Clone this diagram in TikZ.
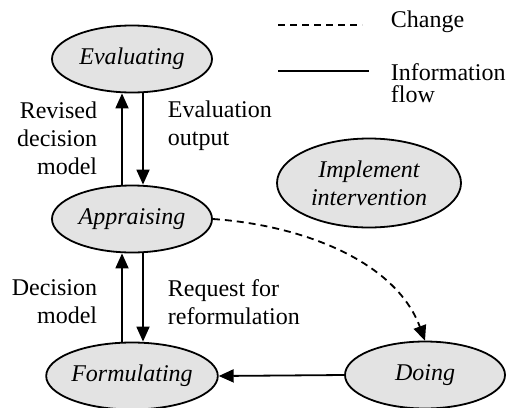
\documentclass[tikz,border=0pt]{standalone}
\usepackage{fontspec}
\setmainfont{Liberation Serif}
\usetikzlibrary{shapes.geometric}
\usetikzlibrary{arrows.meta}

\begin{document}
\begin{tikzpicture}[x=1pt, y=-1pt, line width=1.8pt, font=\fontsize{24}{28}\selectfont]
	\tikzstyle{stage}=[ellipse,draw=black,fill=black!11,minimum width=160pt,minimum height=67pt,inner sep=0pt,font=\fontsize{24}{28}\selectfont\itshape]
	\tikzstyle{flow}=[-{Triangle[length=15pt,width=13pt]}]
	\tikzstyle{change}=[dash pattern=on 7pt off 5pt]
	\tikzstyle{annot}=[inner sep=0pt]

	\useasboundingbox (0,0) rectangle (518,407);

	% Draw the stages
	\node[stage] (eva) at (132,59) {Evaluating};
	\node[stage] (app) at (132,219) {Appraising};
	\node[stage] (form) at (132,376) {Formulating};
	\node[stage] (doing) at (425,375) {Doing};
	\node[stage, align=center, minimum width=184pt, minimum height=89pt] (impl) at (369,183) {Implement\\intervention};

	% Draw arrows
	\draw[flow] ([xshift=-10pt]app.north) -- ([xshift=-10pt]eva.south);
	\draw[flow] ([xshift=11pt]eva.south) -- ([xshift=11pt]app.north);
	\draw[flow] ([xshift=-10pt]form.north) -- ([xshift=-10pt]app.south);
	\draw[flow] ([xshift=11pt]app.south) -- ([xshift=11pt]form.north);
	\draw[flow] (doing.west) -- (form.east);
	\draw[flow, change] (app.east) .. controls (300,225) and (395,260) .. (doing.north);

	% Annotate the arrows
	\node[annot, align=right, anchor=east] (revised) at (98,138) {Revised\\decision\\model};
	\node[annot, align=left, anchor=west] (evalout) at (167,126) {Evaluation\\output};
	\node[annot, align=right, anchor=east] (decmod) at (98,302) {Decision\\model};
	\node[annot, align=left, anchor=west] (request) at (167,302) {Request for\\reformulation};

	% Draw the legend
	\coordinate (chgA) at (278,25);
	\coordinate (chgB) at (362,25);
	\coordinate (infA) at (278,71);
	\coordinate (infB) at (369,71);
	\draw[change] (chgA) -- (chgB);
	\draw (infA) -- (infB);
	\node[annot, anchor=base west] (chglabel) at (390,27) {Change};
	\node[annot, align=left, anchor=west, font=\fontsize{24}{22}\selectfont] (inflabel) at (390,83) {Information\\flow};
\end{tikzpicture}
\end{document}
